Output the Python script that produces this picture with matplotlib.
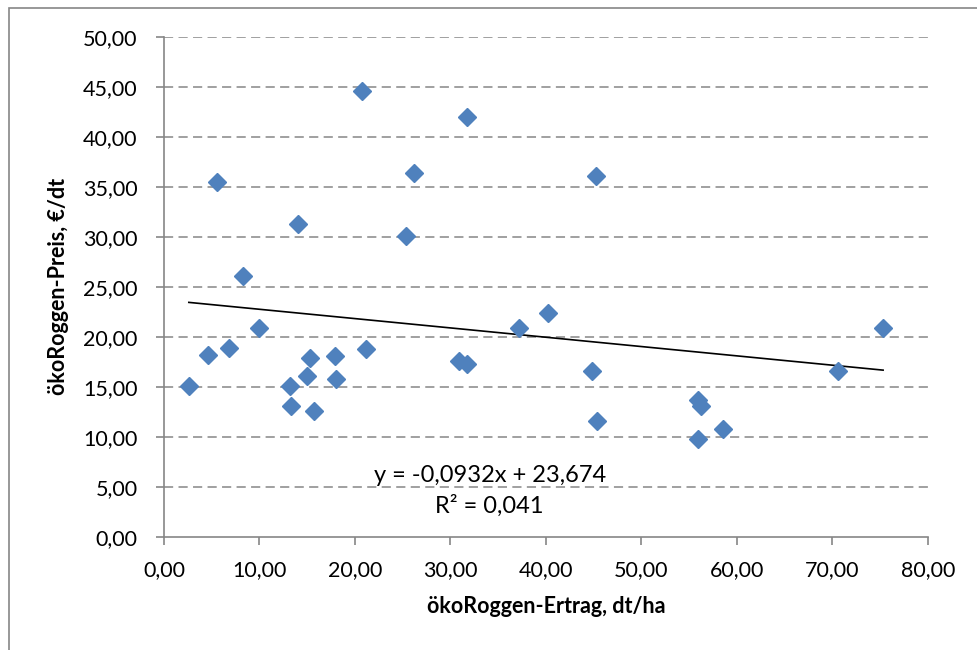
import matplotlib.pyplot as plt
from matplotlib.patches import Rectangle

# Ertrag (dt/ha) und Preis (€/dt)
ertrag = [2.6, 4.6, 5.6, 6.8, 8.3, 10.0, 13.2, 13.3, 14.0, 15.0, 15.3, 15.7,
          17.9, 18.0, 20.7, 21.1, 25.3, 26.2, 30.9, 31.7, 31.7, 37.2, 40.2,
          44.8, 45.2, 45.3, 55.9, 56.2, 55.9, 58.5, 70.6, 75.3]
preis = [15.1, 18.15, 35.5, 18.9, 26.05, 20.9, 15.1, 13.1, 31.25, 16.1, 17.85, 12.55,
         18.05, 15.75, 44.55, 18.75, 30.05, 36.4, 17.6, 17.3, 42.0, 20.9, 22.4,
         16.6, 36.05, 11.55, 13.65, 13.1, 9.75, 10.8, 16.6, 20.9]

# Trendlinie laut Diagramm
steigung = -0.0932
achsenabschnitt = 23.674
bestimmtheit = 0.041

x_ticks = [0, 10, 20, 30, 40, 50, 60, 70, 80]
y_ticks = [0, 5, 10, 15, 20, 25, 30, 35, 40, 45, 50]

plt.rcParams['font.family'] = ['Lato', 'DejaVu Sans']
grau = '#868686'

fig = plt.figure(figsize=(9.78, 6.5), dpi=100)
ax = fig.add_axes([164 / 978, 1 - 536.7 / 650, (928 - 164) / 978, 500 / 650])

# Rahmen des Diagrammbereichs
fig.patches.append(Rectangle((9 / 978, -0.1), 1.2, 1 - 8 / 650 + 0.1,
                             transform=fig.transFigure, fill=False,
                             edgecolor=grau, linewidth=1.2))

for yt in y_ticks[1:]:
    ax.axhline(yt, color=grau, linewidth=1.1, dashes=(6, 3.5), zorder=1)

ax.plot(ertrag, preis, linestyle='none', marker='D', markersize=9.5,
        color='#4F81BD', markeredgecolor='#4F81BD', zorder=3, clip_on=False)

x0, x1 = min(ertrag), max(ertrag)
ax.plot([x0, x1], [steigung * x0 + achsenabschnitt, steigung * x1 + achsenabschnitt],
        color='black', linewidth=1.2, zorder=2)

ax.text(34.1, 5.47, f'y = {steigung:.4f}x + {achsenabschnitt:.3f}'.replace('.', ','),
        ha='center', va='baseline', fontsize=17)
ax.text(34.1, 2.37, f'R² = {bestimmtheit:.3f}'.replace('.', ','),
        ha='center', va='baseline', fontsize=17)

ax.set_xlim(0, 80)
ax.set_ylim(0, 50)
ax.set_xticks(x_ticks)
ax.set_yticks(y_ticks)
ax.set_xticklabels([f'{v:.2f}'.replace('.', ',') for v in x_ticks])
ax.set_yticklabels([f'{v:.2f}'.replace('.', ',') for v in y_ticks])
ax.tick_params(direction='out', length=5.5, width=1.2, color=grau, labelsize=15.5)
ax.tick_params(axis='y', pad=13.5)
ax.tick_params(axis='x', pad=11.5)

for s in ['top', 'right']:
    ax.spines[s].set_visible(False)
for s in ['left', 'bottom']:
    ax.spines[s].set_color(grau)
    ax.spines[s].set_linewidth(1.2)

ax.set_xlabel('ökoRoggen-Ertrag, dt/ha', fontsize=15.5, fontweight='bold', labelpad=11)
ax.set_ylabel('ökoRoggen-Preis, €/dt', fontsize=15.5, fontweight='bold', labelpad=10)

fig.savefig('out.png', dpi=100)
